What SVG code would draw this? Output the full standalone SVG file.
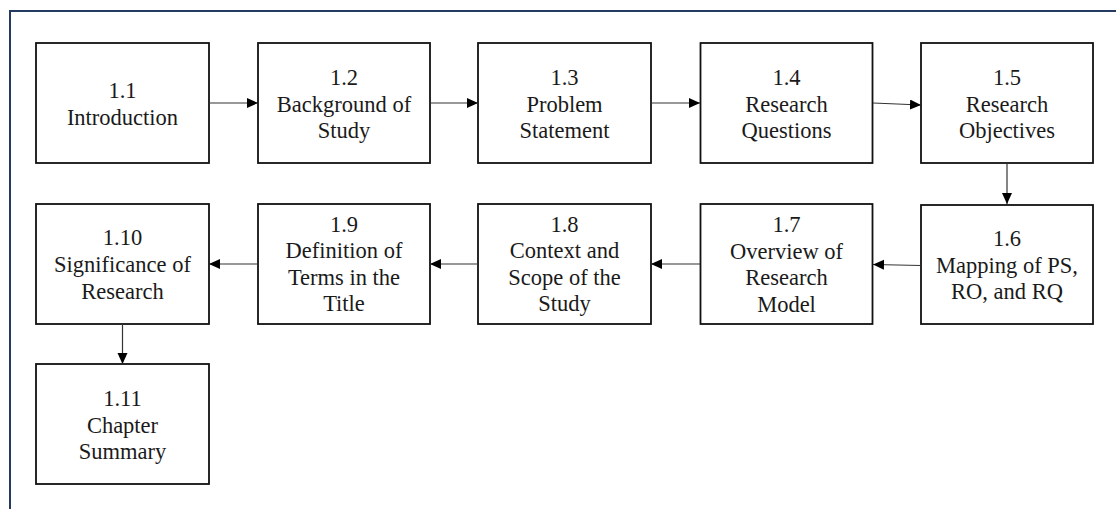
<svg xmlns="http://www.w3.org/2000/svg" width="1116" height="509" viewBox="0 0 1116 509">
<style>
.box{fill:#fff;stroke:#111;stroke-width:1.8}
text{font-family:'Liberation Serif','Times New Roman',serif;font-size:22.5px;fill:#1a1a1a;text-anchor:middle}
.c{stroke:#333;stroke-width:1.2;fill:none;marker-end:url(#ah)}
</style>
<defs>
<marker id="ah" markerUnits="userSpaceOnUse" markerWidth="12" markerHeight="11" refX="11" refY="5" orient="auto">
<path d="M0,0 L11,5 L0,10 Z" fill="#000"/>
</marker>
</defs>
<rect x="0" y="0" width="1116" height="509" fill="#fff"/>
<rect x="10" y="11" width="1120" height="520" fill="none" stroke="#243b61" stroke-width="2"/>
<g font-family="Liberation Serif, Times New Roman, serif">
<g id="n1"><rect class="box" x="36" y="43" width="173" height="120"/><text x="122.5" y="98">1.1</text><text x="122.5" y="125">Introduction</text></g>
<g id="n2"><rect class="box" x="258" y="43" width="172" height="120"/><text x="344" y="85">1.2</text><text x="344" y="112">Background of</text><text x="344" y="138">Study</text></g>
<g id="n3"><rect class="box" x="478" y="43" width="173" height="120"/><text x="564.5" y="85">1.3</text><text x="564.5" y="112">Problem</text><text x="564.5" y="138">Statement</text></g>
<g id="n4"><rect class="box" x="700.5" y="43" width="172" height="120"/><text x="786.5" y="85">1.4</text><text x="786.5" y="112">Research</text><text x="786.5" y="138">Questions</text></g>
<g id="n5"><rect class="box" x="921" y="43" width="172" height="120"/><text x="1007" y="85">1.5</text><text x="1007" y="112">Research</text><text x="1007" y="138">Objectives</text></g>
<g id="n6"><rect class="box" x="921" y="205" width="172" height="119"/><text x="1007" y="246">1.6</text><text x="1007" y="273">Mapping of PS,</text><text x="1007" y="299">RO, and RQ</text></g>
<g id="n7"><rect class="box" x="700.5" y="204" width="172" height="120"/><text x="786.5" y="232">1.7</text><text x="786.5" y="259">Overview of</text><text x="786.5" y="285">Research</text><text x="786.5" y="312">Model</text></g>
<g id="n8"><rect class="box" x="478" y="204" width="173" height="120"/><text x="564.5" y="232">1.8</text><text x="564.5" y="258">Context and</text><text x="564.5" y="285">Scope of the</text><text x="564.5" y="311">Study</text></g>
<g id="n9"><rect class="box" x="258" y="204" width="172" height="120"/><text x="344" y="232">1.9</text><text x="344" y="258">Definition of</text><text x="344" y="285">Terms in the</text><text x="344" y="311">Title</text></g>
<g id="n10"><rect class="box" x="36" y="204" width="173" height="120"/><text x="122.5" y="245">1.10</text><text x="122.5" y="272">Significance of</text><text x="122.5" y="299">Research</text></g>
<g id="n11"><rect class="box" x="36" y="364" width="173" height="120"/><text x="122.5" y="406">1.11</text><text x="122.5" y="433">Chapter</text><text x="122.5" y="459">Summary</text></g>
</g>
<g id="connectors">
<path class="c" d="M209,103 L258,103"/>
<path class="c" d="M430,103 L478,103"/>
<path class="c" d="M651,103 L700,103"/>
<path class="c" d="M873,103 L921,105"/>
<path class="c" d="M1007,163 L1007,204"/>
<path class="c" d="M921,265.5 L873,264.5"/>
<path class="c" d="M700,264 L651,264"/>
<path class="c" d="M478,264 L430,264"/>
<path class="c" d="M258,264 L209,264"/>
<path class="c" d="M122.5,324 L122.5,364"/>
</g>
</svg>
